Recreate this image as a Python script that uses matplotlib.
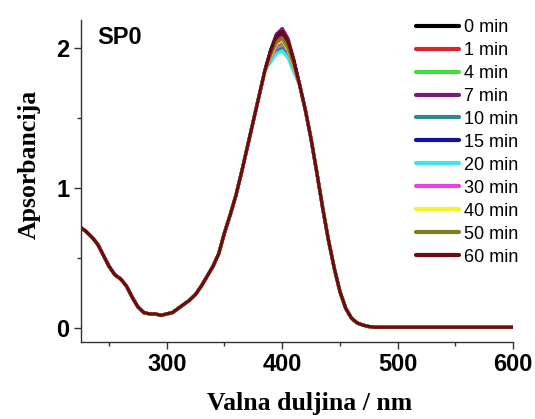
import numpy as np
import matplotlib
matplotlib.use("Agg")
import matplotlib.pyplot as plt

# wavelengths (nm) and absorbance, shared part of all curves
wl = [225, 230, 235, 240, 245, 250, 255, 260, 265, 270, 275, 280, 285, 290, 295,
      300, 305, 310, 315, 320, 325, 330, 335, 340, 345, 350, 355, 360, 365, 370,
      375, 380, 385, 390, 395, 400, 405, 410, 415, 420, 425, 430, 435, 440, 445,
      450, 455, 460, 465, 470, 475, 480, 490, 500, 510, 520, 530, 540, 550, 560,
      570, 580, 590, 600]
base = [0.72, 0.69, 0.65, 0.60, 0.52, 0.44, 0.38, 0.35, 0.30, 0.22, 0.15, 0.11, 0.10, 0.10, 0.09,
        0.10, 0.11, 0.14, 0.17, 0.20, 0.24, 0.30, 0.37, 0.44, 0.53, 0.68, 0.81, 0.95, 1.12, 1.30,
        1.48, 1.66, 1.84, 1.98, 2.09, 2.12, 2.05, 1.91, 1.74, 1.56, 1.35, 1.11, 0.86, 0.63, 0.43,
        0.26, 0.14, 0.07, 0.035, 0.02, 0.01, 0.005, 0.005, 0.005, 0.005, 0.005, 0.005, 0.005, 0.005, 0.005,
        0.005, 0.005, 0.005, 0.005]

# values around the band maximum (390-410 nm), where the curves separate
peak_wl = [390, 395, 400, 405, 410]
labels = ["0 min", "1 min", "4 min", "7 min", "10 min", "15 min",
          "20 min", "30 min", "40 min", "50 min", "60 min"]
peak_vals = [
    [1.98, 2.09, 2.12, 2.05, 1.91],
    [1.96, 2.06, 2.09, 2.02, 1.89],
    [1.92, 2.00, 2.02, 1.96, 1.85],
    [1.99, 2.10, 2.14, 2.07, 1.92],
    [1.91, 1.98, 2.00, 1.95, 1.84],
    [1.98, 2.08, 2.11, 2.04, 1.91],
    [1.90, 1.96, 1.98, 1.93, 1.83],
    [1.93, 2.01, 2.04, 1.98, 1.86],
    [1.94, 2.03, 2.06, 1.99, 1.87],
    [1.95, 2.04, 2.07, 2.00, 1.88],
    [1.98, 2.09, 2.12, 2.05, 1.91],
]
colors = ["#000000", "#d8262a", "#3de03d", "#7a1a7a", "#2e8a8a", "#12129a",
          "#3fe6e6", "#e83ee8", "#f2f227", "#7f7f1c", "#6e0a10"]

fig = plt.figure(figsize=(5.35, 4.19), dpi=100)
ax = fig.add_axes([0.151, 0.184, 0.808, 0.768])

for lab, col, pv in zip(labels, colors, peak_vals):
    y = list(base)
    for w, v in zip(peak_wl, pv):
        y[wl.index(w)] = v
    ax.plot(wl, y, color=col, lw=2.3, label=lab, solid_capstyle="round",
            solid_joinstyle="round")

ax.set_xlim(225.5, 600)
ax.set_ylim(-0.1, 2.2)
ax.set_xticks([300, 400, 500, 600])
ax.set_xticks([250, 350, 450, 550], minor=True)
ax.set_yticks([0, 1, 2])
ax.set_yticks([0.5, 1.5], minor=True)

for s in ["top", "right"]:
    ax.spines[s].set_visible(False)
for s in ["left", "bottom"]:
    ax.spines[s].set_linewidth(1.0)
    ax.spines[s].set_color("#333333")

ax.tick_params(which="major", direction="out", length=5, width=1.0, color="#333333", pad=3)
ax.tick_params(which="minor", direction="out", length=3, width=1.0, color="#333333")
for t in ax.get_xticklabels() + ax.get_yticklabels():
    t.set_fontfamily("Liberation Sans")
    t.set_fontweight("bold")
    t.set_fontsize(17)

ax.set_xlabel("Valna duljina / nm", fontfamily="Liberation Serif", fontweight="bold",
              fontsize=18.5)
ax.set_ylabel("Apsorbancija", fontfamily="Liberation Serif", fontweight="bold",
              fontsize=18.5)
ax.xaxis.set_label_coords(0.53, -0.155)
ax.yaxis.set_label_coords(-0.092, 0.553)

ax.text(0.039, 0.945, "SP0", transform=ax.transAxes, fontfamily="Liberation Sans",
        fontweight="bold", fontsize=17, va="center", ha="left")

leg = ax.legend(loc="upper right", bbox_to_anchor=(1.03, 1.026), frameon=False,
                prop={"family": "Liberation Sans", "size": 13},
                handlelength=2.4, handletextpad=0.3, labelspacing=0.33,
                borderaxespad=0.0)
for h in leg.get_lines():
    h.set_linewidth(3.0)

fig.savefig("out.png", dpi=100)
